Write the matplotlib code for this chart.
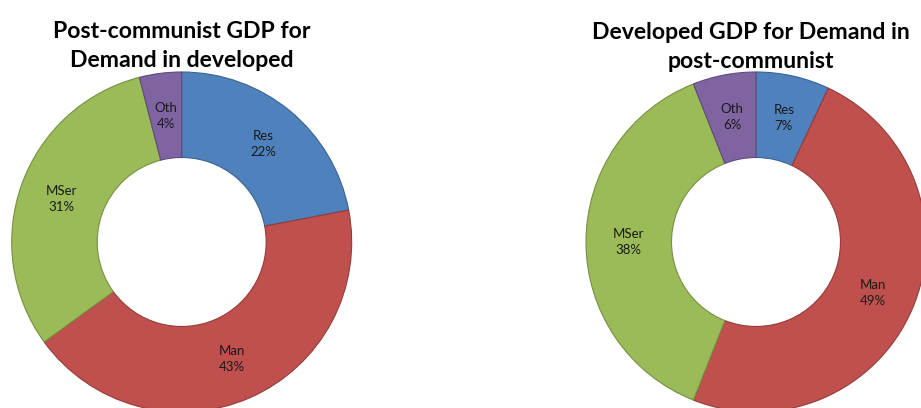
import matplotlib.pyplot as plt
import numpy as np

# ----- data -----
sectors = ['Res', 'Man', 'MSer', 'Oth']
left_vals = [22, 43, 31, 4]
right_vals = [7, 49, 38, 6]
left_title = 'Post-communist GDP for\nDemand in developed'
right_title = 'Developed GDP for Demand in\npost-communist'

colors = ['#4F81BD', '#C0504D', '#9BBB59', '#8064A2']
edges = ['#3A6390', '#943C3A', '#76903F', '#614A7E']

plt.rcParams['font.family'] = ['Lato', 'DejaVu Sans']

fig = plt.figure(figsize=(9.21, 4.08), dpi=100)
ax = fig.add_axes([0, 0, 1, 1])


def donut(vals, cx, cy, r, title, tx, ty):
    wedges, _ = ax.pie(vals, colors=colors, startangle=90, counterclock=False,
                       center=(cx, cy), radius=r, frame=True,
                       wedgeprops=dict(width=r * 0.503, linewidth=0.8))
    for w, ec, name, v in zip(wedges, edges, sectors, vals):
        w.set_edgecolor(ec)
        mid = np.deg2rad((w.theta1 + w.theta2) / 2)
        rr = r * 0.75
        ax.text(cx + rr * np.cos(mid), cy + rr * np.sin(mid), f'{name}\n{v}%',
                ha='center', va='center', fontsize=9.5, linespacing=1.4,
                color='#1a1a1a')
    ax.text(tx, ty, title, ha='center', va='center', fontsize=16.6,
            fontweight='bold', linespacing=1.45, color='black')


donut(left_vals, 181.7, 408 - 242, 170, left_title, 182, 408 - 46)
donut(right_vals, 756, 408 - 242, 170, right_title, 751, 408 - 47)

ax.set_xlim(0, 921)
ax.set_ylim(0, 408)
ax.set_aspect('equal')
ax.axis('off')

fig.savefig('out.png', dpi=100)
